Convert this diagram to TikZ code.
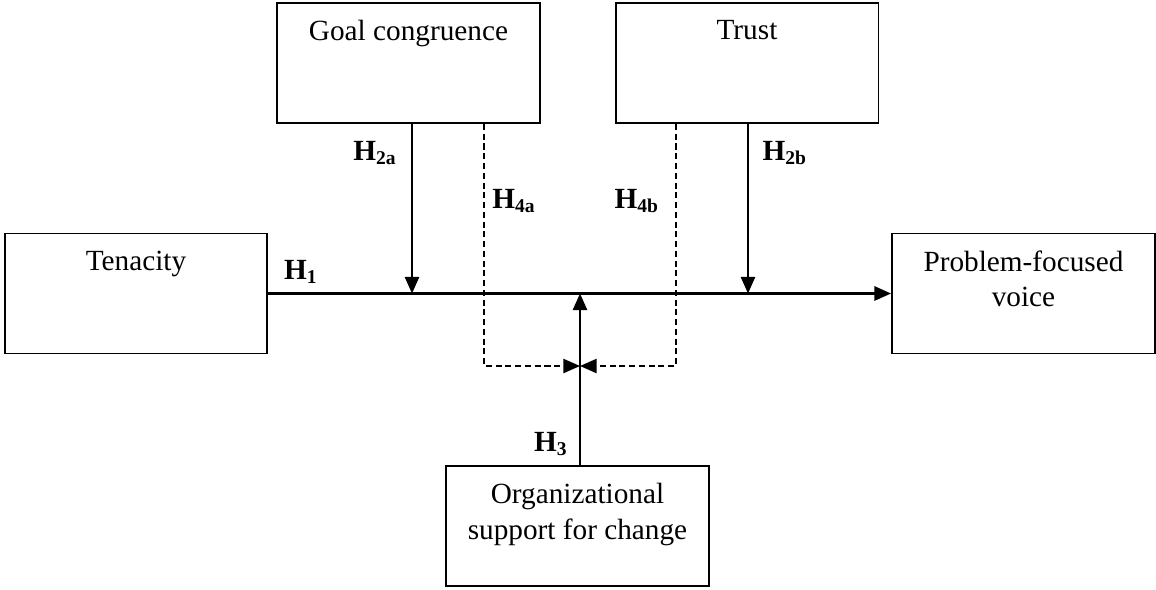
\documentclass[tikz,border=0pt]{standalone}
\usepackage{fontspec}
\setmainfont{Liberation Serif}
\usetikzlibrary{positioning,arrows.meta}

\tikzset{
  box/.style={draw, line width=0.8pt, minimum width=107.8pt, minimum height=49.2pt, inner sep=0pt},
  head/.style={anchor=north, yshift=-4pt, align=center},
  arr/.style={line width=0.9pt, -{Triangle[length=6.8pt,width=5.8pt]}},
  dsh/.style={line width=0.7pt, dash pattern=on 2.5pt off 1.5pt},
  hyp/.style={font=\fontsize{12pt}{14pt}\selectfont\bfseries}
}

\begin{document}
\begin{tikzpicture}[x=0.41pt, y=-0.41pt,
  every node/.style={font=\fontsize{12pt}{14.5pt}\selectfont}]
\useasboundingbox (0,0) rectangle (1156,589);

\def\ym{293.5}
\def\yj{366}

% boxes
\node[box] (goal) at (408.5,63) {};
\node[box] (trust) at (747,63) {};
\node[box] (ten) at (136,\ym) {};
\node[box] (voice) at (1023.5,\ym) {};
\node[box] (org) at (577.5,526) {};

\node[head] (goal-t) at (goal.north) {Goal congruence};
\node[head] (trust-t) at (trust.north) {Trust};
\node[head] (ten-t) at (ten.north) {Tenacity};
\node[head] (voice-t) at (voice.north) {Problem-focused\\voice};
\node[head] (org-t) at (org.north) {Organizational\\support for change};

\coordinate (ga) at (412,\ym);
\coordinate (gb) at (748,\ym);
\coordinate (m) at (580,\ym);
\coordinate (j) at (580,\yj);
\coordinate (da) at (484,\yj);
\coordinate (db) at (676,\yj);

% arrows
\draw[arr] (ten) -- (voice);
\draw[arr] (goal.south -| ga) -- (ga);
\draw[arr] (trust.south -| gb) -- (gb);
\draw[arr] (org.north -| m) -- (m);
\draw[arr,dsh] (goal.south -| da) -- (da) -- (j);
\draw[arr,dsh] (trust.south -| db) -- (db) -- (j);

% hypotheses
\node[hyp] (h1) at (301,272) {H\textsubscript{1}};
\node[hyp] (h2a) at (375,153) {H\textsubscript{2a}};
\node[hyp] (h2b) at (785,153) {H\textsubscript{2b}};
\node[hyp] (h3) at (551,444) {H\textsubscript{3}};
\node[hyp] (h4a) at (514,201) {H\textsubscript{4a}};
\node[hyp] (h4b) at (637,201) {H\textsubscript{4b}};
\end{tikzpicture}
\end{document}
